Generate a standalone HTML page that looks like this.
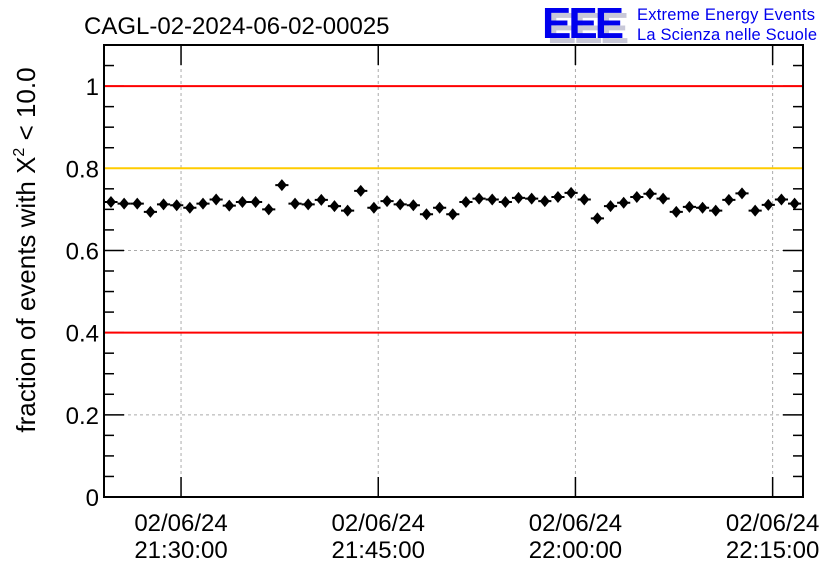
<!DOCTYPE html>
<html><head><meta charset="utf-8"><style>
body{margin:0;background:#fff;width:836px;height:572px;overflow:hidden;font-family:"Liberation Sans",sans-serif}
</style></head><body>
<svg id="chart" width="836" height="572" font-family="Liberation Sans, sans-serif">
<text x="84" y="34" font-size="24">CAGL-02-2024-06-02-00025</text>
<g>
<text x="547" y="43" font-size="44" font-weight="bold" fill="#c8c8d8" letter-spacing="-3">EEE</text>
<text x="542" y="38" font-size="44" font-weight="bold" fill="#0000ee" letter-spacing="-3">EEE</text>
<text x="637" y="20" font-size="16.5" fill="#0000ee" textLength="178">Extreme Energy Events</text>
<text x="637" y="40" font-size="16.5" fill="#0000ee" textLength="180">La Scienza nelle Scuole</text>
</g>
<g id="grid"></g><g id="marks"></g><g id="axes"></g><g id="lines"></g>
<text transform="translate(35,250) rotate(-90)" text-anchor="middle" font-size="26">fraction of events with Χ<tspan dy="-11" font-size="16">2</tspan><tspan dy="11"> &lt; 10.0</tspan></text>
</svg>
<script>
const offsetsMin = [-5.33,-4.33,-3.33,-2.33,-1.33,-0.33,0.67,1.67,2.67,3.67,4.67,5.67,6.67,7.67,8.67,9.67,10.67,11.67,12.67,13.67,14.67,15.67,16.67,17.67,18.67,19.67,20.67,21.67,22.67,23.67,24.67,25.67,26.67,27.67,28.67,29.67,30.67,31.67,32.67,33.67,34.67,35.67,36.67,37.67,38.67,39.67,40.67,41.67,42.67,43.67,44.67,45.67,46.67];
const values = [0.718,0.714,0.714,0.694,0.712,0.710,0.704,0.714,0.724,0.709,0.718,0.718,0.700,0.759,0.714,0.712,0.723,0.708,0.697,0.745,0.704,0.720,0.712,0.710,0.688,0.704,0.688,0.718,0.726,0.724,0.718,0.728,0.726,0.720,0.730,0.740,0.724,0.678,0.708,0.716,0.730,0.738,0.726,0.694,0.706,0.704,0.697,0.723,0.739,0.697,0.711,0.724,0.714];
const errors = [0.011];
const yTicks = [0,0.2,0.4,0.6,0.8,1];
const yTickLabels = ["0","0.2","0.4","0.6","0.8","1"];
const xTicksMin = [0,15,30,45];
const xTickLabels = [["02/06/24","21:30:00"],["02/06/24","21:45:00"],["02/06/24","22:00:00"],["02/06/24","22:15:00"]];
const refLines = [1.0,0.8,0.4];
const refColors = ["#ff0000","#ffcc00","#ff0000"];

const L=104,R=803,T=45,B=497;
const xMin=-5.86,xMax=47.31,yMin=0,yMax=1.1;
const X=v=>L+(v-xMin)/(xMax-xMin)*(R-L);
const Y=v=>B-(v-yMin)/(yMax-yMin)*(B-T);
const NS="http://www.w3.org/2000/svg";
function mk(parent,tag,attrs){const e=document.createElementNS(NS,tag);for(const k in attrs)e.setAttribute(k,attrs[k]);document.getElementById(parent).appendChild(e);return e;}
yTicks.forEach(v=>{if(v>0){const g=mk('grid','line',{x1:L,x2:R,y1:Y(v),y2:Y(v),stroke:'#aaa','stroke-dasharray':'3,3'});

}});
xTicksMin.forEach(v=>{const g=mk('grid','line',{x1:X(v),x2:X(v),y1:T,y2:B,stroke:'#aaa','stroke-dasharray':'3,3'});

});
refLines.forEach((v,i)=>{const l=mk('lines','line',{x1:L+1,x2:R-1,y1:Y(v),y2:Y(v),stroke:refColors[i],'stroke-width':2});

});
values.forEach((v,i)=>{const cx=X(offsetsMin[i]),cy=Y(v),e=errors[0];
const g=mk('marks','g',{});


const h=document.createElementNS(NS,'path');
const hw=(X(0.5)-X(0));
h.setAttribute('d',`M${cx-hw},${cy}H${cx+hw}M${cx},${Y(v+e)}V${Y(v-e)}`);
h.setAttribute('stroke','#000');h.setAttribute('stroke-width','2');g.appendChild(h);
const d=document.createElementNS(NS,'path');
d.setAttribute('d',`M${cx},${cy-6}L${cx+5},${cy}L${cx},${cy+6}L${cx-5},${cy}Z`);
d.setAttribute('fill','#000');g.appendChild(d);});
const f=mk('axes','rect',{x:L,y:T,width:R-L,height:B-T,fill:'none',stroke:'#000','stroke-width':2});


for(let v=0;v<=1.1001;v+=0.05){const big=Math.abs(v*5-Math.round(v*5))<1e-6;const len=big?20:10;
mk('axes','line',{x1:L,x2:L+len,y1:Y(v),y2:Y(v),stroke:'#000','stroke-width':1.5});
mk('axes','line',{x1:R,x2:R-len,y1:Y(v),y2:Y(v),stroke:'#000','stroke-width':1.5});}
yTicks.forEach((v,i)=>{const t=mk('axes','text',{x:L-5,y:Y(v)+9,'text-anchor':'end','font-size':24});t.textContent=yTickLabels[i];

});
xTicksMin.forEach((v,i)=>{const x=X(v);
mk('axes','line',{x1:x,x2:x,y1:B,y2:B-20,stroke:'#000','stroke-width':1.5});
mk('axes','line',{x1:x,x2:x,y1:T,y2:T+20,stroke:'#000','stroke-width':1.5});
const t=mk('axes','text',{x:x,y:531,'text-anchor':'middle','font-size':24});t.textContent=xTickLabels[i][0];


const t2=mk('axes','text',{x:x,y:558,'text-anchor':'middle','font-size':24});t2.textContent=xTickLabels[i][1];

});
</script>
</body></html>
